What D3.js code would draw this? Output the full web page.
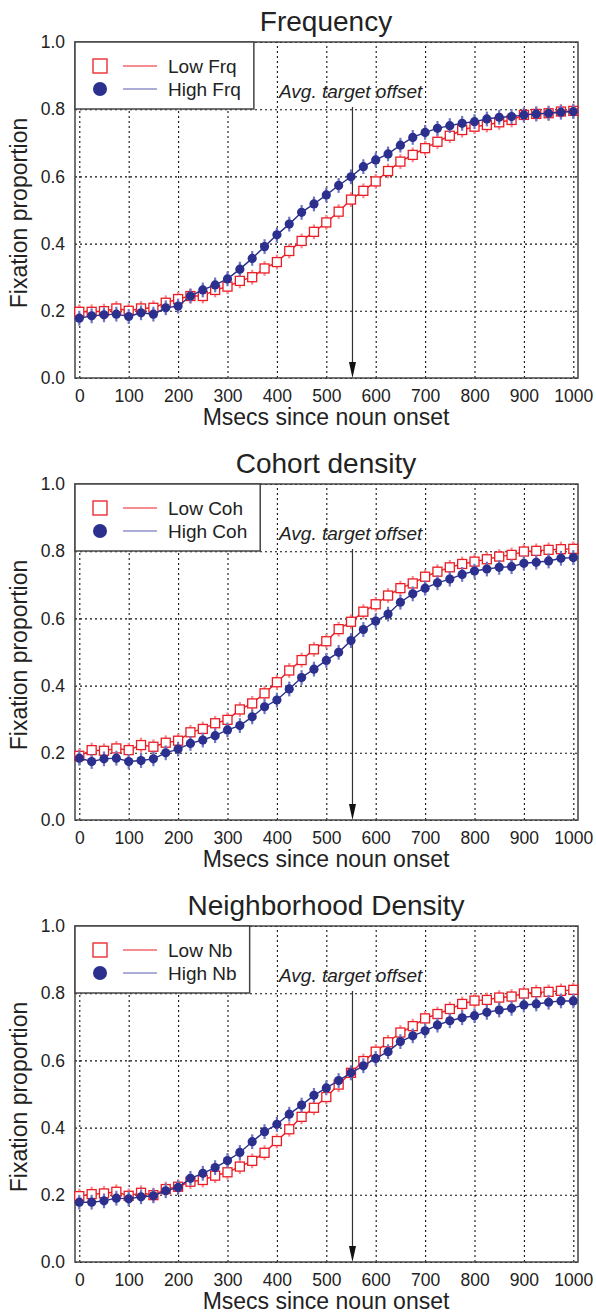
<!DOCTYPE html>
<html>
<head>
<meta charset="utf-8">
<script src="https://cdn.jsdelivr.net/npm/d3@7"></script>
<style>
  body { margin: 0; background: #fff; }
  svg { font-family: "Liberation Sans", Arial, Helvetica, sans-serif; }
</style>
</head>
<body>
<script>
const W = 596;
const H = 1314;

// sample times (ms since noun onset)
const timeMs = [0, 25, 50, 75, 100, 125, 150, 175, 200, 225, 250, 275, 300, 325, 350, 375, 400,
  425, 450, 475, 500, 525, 550, 575, 600, 625, 650, 675, 700, 725, 750, 775, 800,
  825, 850, 875, 900, 925, 950, 975, 1000];

const freqLow = [.197, .197, .199, .207, .200, .207, .209, .224, .235, .244, .244, .262, .272,
  .289, .300, .326, .345, .378, .408, .435, .463, .495, .531, .557, .585, .616, .644,
  .664, .684, .703, .721, .738, .748, .753, .761, .768, .783, .786, .788, .793, .795];
const freqHigh = [.178, .185, .188, .190, .183, .194, .190, .209, .214, .244, .262, .277, .295,
  .324, .356, .391, .426, .458, .493, .518, .545, .573, .599, .629, .649, .667, .693,
  .716, .731, .743, .751, .758, .763, .771, .776, .778, .783, .786, .788, .791, .793];

const cohLow = [.191, .208, .206, .213, .208, .223, .218, .230, .236, .261, .271, .288, .298,
  .329, .347, .377, .410, .445, .476, .508, .532, .568, .590, .620, .642, .668, .690,
  .704, .724, .739, .752, .762, .769, .776, .784, .789, .799, .801, .804, .806, .807];
const cohHigh = [.184, .174, .182, .184, .174, .177, .182, .200, .211, .228, .238, .251, .268,
  .281, .307, .337, .357, .390, .424, .449, .475, .499, .534, .567, .592, .613, .648,
  .673, .690, .706, .717, .731, .741, .747, .752, .754, .764, .767, .771, .779, .781];

const nbLow = [.196, .202, .204, .209, .197, .206, .199, .217, .224, .239, .244, .257, .267,
  .284, .301, .325, .360, .395, .432, .459, .491, .528, .563, .598, .626, .654, .683,
  .702, .725, .738, .753, .768, .778, .780, .787, .790, .799, .803, .804, .807, .810];
const nbHigh = [.178, .178, .182, .190, .188, .194, .197, .212, .222, .249, .264, .281, .302,
  .326, .358, .388, .410, .440, .467, .496, .518, .540, .563, .584, .606, .626, .656,
  .673, .688, .705, .718, .727, .733, .743, .750, .755, .765, .768, .773, .777, .777];

const errHalf = 0.022;         // approx. half length of the error bars
const targetOffset = 553;      // avg. target offset (ms)

const xTicks = [0, 100, 200, 300, 400, 500, 600, 700, 800, 900, 1000];
const yTicks = [0, 0.2, 0.4, 0.6, 0.8, 1.0];

const panelTitles = ["Frequency", "Cohort density", "Neighborhood Density"];
const lowLabels = ["Low Frq", "Low Coh", "Low Nb"];
const highLabels = ["High Frq", "High Coh", "High Nb"];
const lowSeries = [freqLow, cohLow, nbLow];
const highSeries = [freqHigh, cohHigh, nbHigh];

const RED = "#ec1c24";
const RED_ERR = "#f58a8e";
const BLUE = "#2b2f8e";
const BLUE_ERR = "#6f74c2";

const left = 75, right = 578, ph = 336;
const panelTops = [42, 484, 926];

const svg = d3.select("body").append("svg").attr("width", W).attr("height", H);

const x = d3.scaleLinear().domain([-8.7, 1009.5]).range([left, right]);
const y = d3.scaleLinear().domain([0, 1]).range([ph, 0]);

function drawPanel(i) {
  const g = svg.append("g").attr("transform", `translate(0,${panelTops[i]})`);

  // grid
  const gx = g.append("g").attr("transform", `translate(0,${ph})`)
    .call(d3.axisBottom(x).tickValues(xTicks).tickSize(-ph).tickFormat(""));
  const gy = g.append("g").attr("transform", `translate(${left},0)`)
    .call(d3.axisLeft(y).tickValues(yTicks).tickSize(-(right - left)).tickFormat(""));
  [gx, gy].forEach(a => {
    a.select(".domain").remove();
    a.selectAll("line").attr("stroke", "#111").attr("stroke-width", 1.1).attr("stroke-dasharray", "2,3");
  });

  // tick labels
  const lx = g.append("g").attr("transform", `translate(0,${ph})`)
    .call(d3.axisBottom(x).tickValues(xTicks).tickSize(0).tickPadding(11.5).tickFormat(d3.format("d")));
  const ly = g.append("g").attr("transform", `translate(${left},0)`)
    .call(d3.axisLeft(y).tickValues(yTicks).tickSize(0).tickPadding(10).tickFormat(d3.format(".1f")));
  [lx, ly].forEach(a => {
    a.select(".domain").remove();
    a.selectAll("text").attr("font-size", "17.5px").attr("fill", "#222")
      .attr("font-family", '"Liberation Sans", Arial, sans-serif');
  });

  // frame
  g.append("rect").attr("x", left).attr("y", 0).attr("width", right - left).attr("height", ph)
    .attr("fill", "none").attr("stroke", "#444").attr("stroke-width", 1.5);

  // titles
  g.append("text").attr("x", 326).attr("y", -11).attr("text-anchor", "middle")
    .attr("font-size", "28px").attr("fill", "#222").text(panelTitles[i]);
  g.append("text").attr("x", 326).attr("y", ph + 47).attr("text-anchor", "middle")
    .attr("font-size", "23px").attr("fill", "#222").text("Msecs since noun onset");
  g.append("text").attr("transform", `translate(27,${ph / 2 + 3}) rotate(-90)`)
    .attr("text-anchor", "middle").attr("font-size", "23px").attr("fill", "#222")
    .text("Fixation proportion");

  // target offset arrow
  const ax = x(targetOffset);
  g.append("line").attr("x1", ax).attr("x2", ax).attr("y1", 65).attr("y2", ph - 14)
    .attr("stroke", "#333").attr("stroke-width", 1.2);
  g.append("path").attr("d", `M${ax - 3.5},${ph - 16}L${ax + 3.5},${ph - 16}L${ax},${ph}Z`)
    .attr("fill", "#111");
  g.append("text").attr("x", 279).attr("y", 56).attr("font-size", "19px")
    .attr("font-style", "italic").attr("fill", "#222").text("Avg. target offset");

  // series
  const line = d3.line().x((d, j) => x(timeMs[j])).y(d => y(d));
  const series = [
    { vals: lowSeries[i], color: RED, err: RED_ERR, shape: "square" },
    { vals: highSeries[i], color: BLUE, err: BLUE_ERR, shape: "circle" }
  ];
  series.forEach(s => {
    const sg = g.append("g");
    sg.append("path").datum(s.vals).attr("d", line).attr("fill", "none")
      .attr("stroke", s.color).attr("stroke-width", 1.4);
    sg.selectAll("line.err").data(s.vals).enter().append("line").attr("class", "err")
      .attr("x1", (d, j) => x(timeMs[j])).attr("x2", (d, j) => x(timeMs[j]))
      .attr("y1", d => y(d - errHalf)).attr("y2", d => y(d + errHalf))
      .attr("stroke", s.err).attr("stroke-width", 2.2);
    if (s.shape === "square") {
      sg.selectAll("rect.pt").data(s.vals).enter().append("rect").attr("class", "pt")
        .attr("x", (d, j) => x(timeMs[j]) - 4.5).attr("y", d => y(d) - 4.5)
        .attr("width", 9).attr("height", 9)
        .attr("fill", "#fff").attr("stroke", s.color).attr("stroke-width", 1.3);
    } else {
      sg.selectAll("circle.pt").data(s.vals).enter().append("circle").attr("class", "pt")
        .attr("cx", (d, j) => x(timeMs[j])).attr("cy", d => y(d)).attr("r", 4.6)
        .attr("fill", s.color);
    }
  });

  // legend
  const lg = g.append("g");
  const box = lg.append("rect").attr("x", left).attr("y", 0).attr("height", 67)
    .attr("fill", "#fff").attr("stroke", "#444").attr("stroke-width", 1.5);
  lg.append("rect").attr("x", 93).attr("y", 17).attr("width", 14).attr("height", 14)
    .attr("fill", "#fff").attr("stroke", RED).attr("stroke-width", 1.3);
  lg.append("circle").attr("cx", 100).attr("cy", 47).attr("r", 7).attr("fill", BLUE);
  lg.append("line").attr("x1", 123).attr("x2", 157).attr("y1", 24).attr("y2", 24)
    .attr("stroke", RED).attr("stroke-width", 1.2);
  lg.append("line").attr("x1", 123).attr("x2", 157).attr("y1", 47).attr("y2", 47)
    .attr("stroke", "#5a5fb0").attr("stroke-width", 1.2);
  const t1 = lg.append("text").attr("x", 168).attr("y", 31).attr("font-size", "19px")
    .attr("fill", "#222").text(lowLabels[i]);
  const t2 = lg.append("text").attr("x", 168).attr("y", 54).attr("font-size", "19px")
    .attr("fill", "#222").text(highLabels[i]);
  const tw = Math.max(t1.node().getComputedTextLength(), t2.node().getComputedTextLength());
  box.attr("width", 168 + tw + 13 - left);
}

panelTitles.forEach((t, i) => drawPanel(i));
</script>
</body>
</html>
